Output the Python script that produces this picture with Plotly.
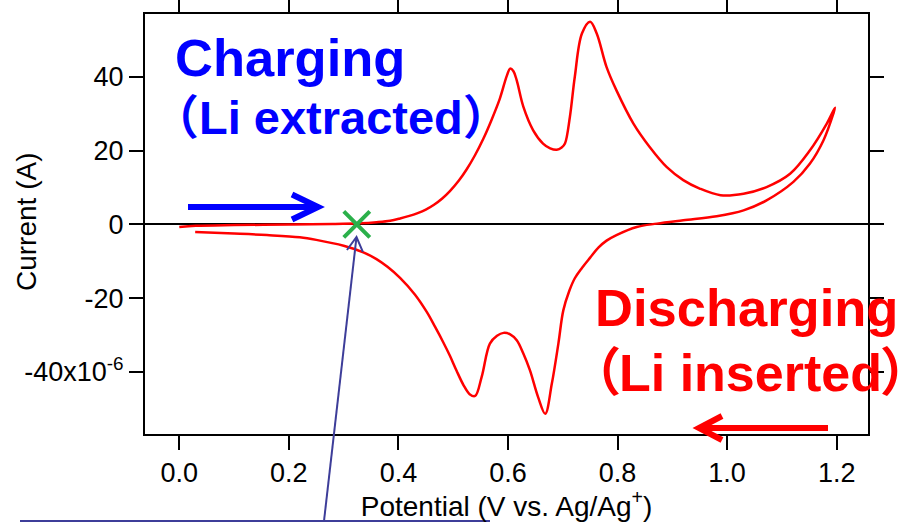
import math
import plotly.graph_objects as go

# Cyclic voltammogram: anodic sweep 0.0 -> 1.2 V, then cathodic sweep back to ~0.03 V
potential_forward = [0.000, 0.030, 0.100, 0.200, 0.280, 0.330, 0.360, 0.385, 0.403, 0.420,
                     0.434, 0.450, 0.465, 0.480, 0.494, 0.510, 0.525, 0.540, 0.555, 0.570,
                     0.585, 0.598, 0.604, 0.610, 0.616, 0.628, 0.646, 0.664, 0.677, 0.689,
                     0.698, 0.704, 0.713, 0.722, 0.735, 0.750, 0.762, 0.780, 0.798, 0.829,
                     0.859, 0.890, 0.920, 0.950, 0.988, 1.030, 1.072, 1.115, 1.151, 1.182,
                     1.197]
current_forward = [-0.7, -0.4, -0.2, -0.05, 0.1, 0.3, 0.6, 1.0, 1.6, 2.3,
                   3.0, 4.0, 5.3, 7.0, 9.0, 11.8, 15.0, 18.8, 23.2, 28.3,
                   34.0, 40.3, 42.2, 41.5, 39.0, 31.9, 25.5, 21.9, 20.6, 20.2,
                   20.8, 21.9, 29.1, 40.0, 51.7, 54.9, 51.7, 42.6, 36.3, 27.3,
                   20.9, 15.5, 12.0, 9.7, 7.9, 8.3, 10.1, 13.7, 20.0, 27.3,
                   31.6]

potential_reverse = [1.194, 1.176, 1.151, 1.121, 1.072, 1.030, 0.981, 0.920, 0.872, 0.835,
                     0.798, 0.780, 0.765, 0.750, 0.735, 0.722, 0.712, 0.701, 0.692, 0.680,
                     0.668, 0.655, 0.640, 0.628, 0.616, 0.604, 0.592, 0.580, 0.567, 0.552,
                     0.540, 0.530, 0.519, 0.506, 0.494, 0.482, 0.467, 0.452, 0.430, 0.403,
                     0.380, 0.360, 0.336, 0.300, 0.250, 0.220, 0.160, 0.100, 0.029]
current_reverse = [30.0, 22.8, 16.4, 11.5, 6.5, 3.8, 2.2, 1.1, 0.2, -0.7,
                   -2.9, -4.4, -6.3, -9.0, -11.8, -14.6, -18.0, -23.3, -32.3, -43.2,
                   -51.3, -46.8, -39.5, -35.0, -31.4, -29.8, -29.4, -30.2, -32.3, -41.3,
                   -46.5, -46.0, -43.6, -39.6, -35.6, -32.0, -27.8, -23.8, -19.0, -14.5,
                   -11.5, -9.4, -7.6, -5.8, -4.2, -3.5, -2.9, -2.5, -2.1]

# Potential where the anodic current sets in
onset_potential = [0.324]
onset_current = [0.0]

x_ticks = [0.0, 0.2, 0.4, 0.6, 0.8, 1.0, 1.2]
x_tick_labels = ["0.0", "0.2", "0.4", "0.6", "0.8", "1.0", "1.2"]
y_ticks = [40, 20, 0, -20, -40]
y_tick_labels = ["40", "20", "0", "-20", "-40x10<sup>-6</sup>"]

FONT = "Liberation Sans, Arial, Noto Sans CJK JP, sans-serif"
NAVY = "#3d3d99"
BLUE = "#0000ff"
RED = "#ff0000"

WIDTH, HEIGHT = 910, 522
M_L, M_R, M_T, M_B = 145, 42, 14, 88
PLOT_W = WIDTH - M_L - M_R
PLOT_H = HEIGHT - M_T - M_B


def px_to_paper(px, py):
    """Convert a page pixel position to paper coordinates."""
    return (px - M_L) / PLOT_W, (HEIGHT - M_B - py) / PLOT_H


def arrow_shapes(tail, tip, color, shaft_width, head_len, head_half, head_width):
    """Straight arrow drawn as a shaft line plus an open chevron head (pixel inputs)."""
    dx, dy = tip[0] - tail[0], tip[1] - tail[1]
    n = math.hypot(dx, dy)
    ux, uy = dx / n, dy / n
    vx, vy = -uy, ux
    a = (tip[0] - head_len * ux + head_half * vx, tip[1] - head_len * uy + head_half * vy)
    b = (tip[0] - head_len * ux - head_half * vx, tip[1] - head_len * uy - head_half * vy)
    end = (tip[0] - 0.6 * head_width * ux, tip[1] - 0.6 * head_width * uy)
    x0, y0 = px_to_paper(*tail)
    x1, y1 = px_to_paper(*end)
    pa, pt, pb = px_to_paper(*a), px_to_paper(*tip), px_to_paper(*b)
    return [
        dict(type="line", xref="paper", yref="paper", x0=x0, y0=y0, x1=x1, y1=y1,
             line=dict(color=color, width=shaft_width)),
        dict(type="path", xref="paper", yref="paper",
             path=f"M{pa[0]},{pa[1]} L{pt[0]},{pt[1]} L{pb[0]},{pb[1]}",
             line=dict(color=color, width=head_width)),
    ]


fig = go.Figure()

fig.add_trace(go.Scatter(
    x=potential_forward + potential_reverse,
    y=current_forward + current_reverse,
    mode="lines",
    line=dict(color=RED, width=2.5, shape="spline", smoothing=1.0),
    showlegend=False,
))

fig.add_trace(go.Scatter(
    x=onset_potential, y=onset_current,
    mode="markers",
    marker=dict(symbol="x-thin", size=26, line=dict(color="#2bb04a", width=4)),
    showlegend=False,
))

axis_common = dict(
    showline=True, linecolor="black", linewidth=2,
    mirror="ticks", ticks="outside", ticklen=14, tickwidth=2, tickcolor="black",
    showgrid=False, automargin=False,
    tickfont=dict(family=FONT, size=27, color="black"),
)

fig.update_xaxes(
    range=[-0.0626, 1.2572],
    tickmode="array", tickvals=x_ticks, ticktext=x_tick_labels,
    zeroline=False,
    title=dict(text="Potential (V vs. Ag/Ag<sup>+</sup>)",
               font=dict(family=FONT, size=28, color="black"), standoff=6),
    **axis_common,
)
fig.update_yaxes(
    range=[-56.8, 57.0],
    tickmode="array", tickvals=y_ticks, ticktext=y_tick_labels,
    zeroline=True, zerolinecolor="black", zerolinewidth=2,
    **axis_common,
)


def label(text, px, py, size, color, anchor="left", **extra):
    x, y = px_to_paper(px, py)
    return dict(text=text, x=x, y=y, xref="paper", yref="paper", showarrow=False,
                xanchor=anchor, yanchor="middle",
                font=dict(family=FONT, size=size, color=color, **extra))


annotations = [
    # y-axis title
    dict(label("Current (A)", 26, 222, 28, "black", anchor="center"), textangle=-90),
    # process labels
    label("Charging", 173, 58, 52.5, BLUE, weight="bold"),
    label("（Li extracted）", 150, 117, 47, BLUE, weight="bold"),
    label("Discharging", 593, 307, 52.5, RED, weight="bold"),
    label("<span style=\"font-feature-settings:'palt'\">（Li inserted）</span>",
          910, 373, 52, RED, anchor="right", weight="bold"),
]

shapes = []
# sweep direction arrows
shapes += arrow_shapes((188, 207), (318, 207), BLUE, 6, 26, 12.5, 6)
shapes += arrow_shapes((828, 428), (699, 428), RED, 6, 23, 12, 6)
# pointer to the onset potential, with its leader line along the bottom
shapes += arrow_shapes((324, 521), (356.5, 237), NAVY, 2, 14, 8, 2)
lx0, ly = px_to_paper(20, 521)
lx1, _ = px_to_paper(490, 521)
shapes.append(dict(type="line", xref="paper", yref="paper",
                   x0=lx0, x1=lx1, y0=ly, y1=ly, line=dict(color=NAVY, width=2)))

fig.update_layout(
    template="none",
    width=WIDTH, height=HEIGHT,
    margin=dict(l=M_L, r=M_R, t=M_T, b=M_B, autoexpand=False),
    paper_bgcolor="white", plot_bgcolor="white",
    font=dict(family=FONT, color="black"),
    annotations=annotations,
    shapes=shapes,
)

fig.write_html("out.html")
